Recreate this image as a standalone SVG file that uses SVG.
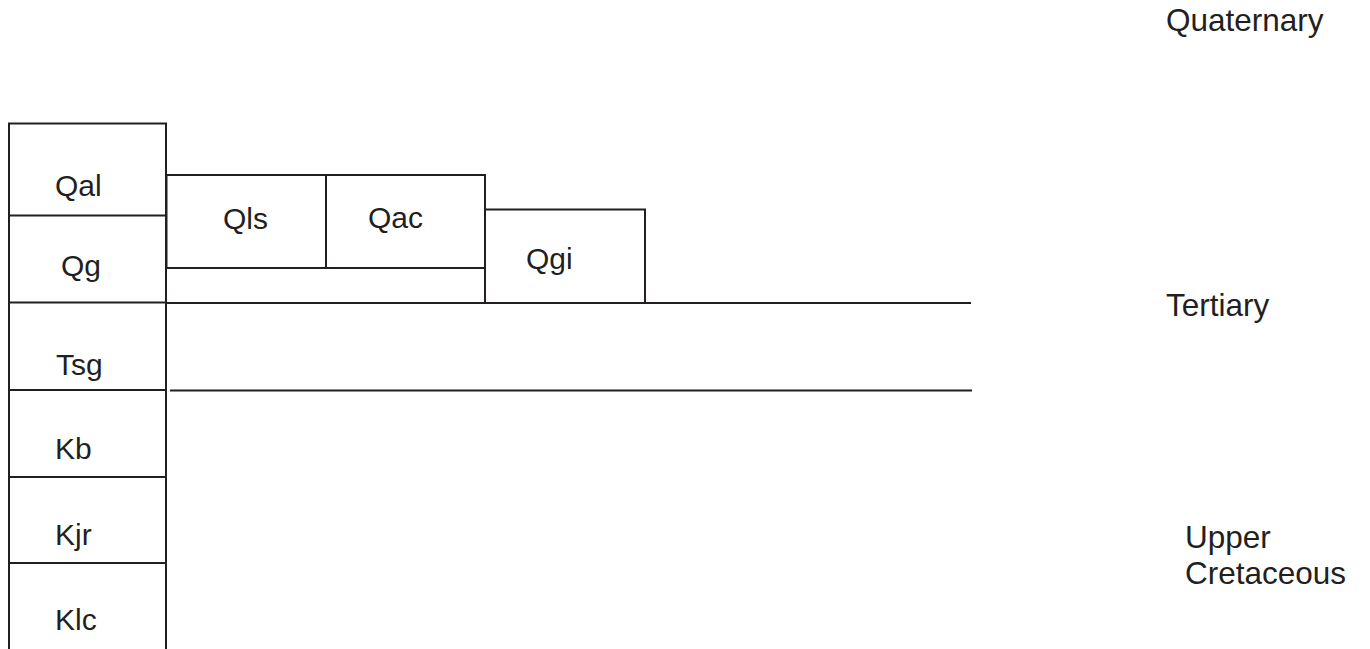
<svg xmlns="http://www.w3.org/2000/svg" width="1370" height="649" viewBox="0 0 1370 649">
<style>
.b{fill:none;stroke:#231f20;stroke-width:2}
.t{font-family:"Liberation Sans",Arial,sans-serif;font-size:30px;fill:#231f20}
.p{font-size:31.5px}
</style>
<rect width="1370" height="649" fill="#fff"/>
<g id="column">
<path class="b" d="M9,660 V123.5 H166 V660"/>
</g>
<g id="Qal"><path class="b" d="M9,215.5 H166"/><text class="t" x="55" y="196">Qal</text></g>
<g id="Qg"><path class="b" d="M9,302.5 H166"/><text class="t" x="61" y="276">Qg</text></g>
<g id="Tsg"><path class="b" d="M9,390 H166"/><text class="t" x="56" y="375">Tsg</text></g>
<g id="Kb"><path class="b" d="M9,477 H166"/><text class="t" x="55" y="459">Kb</text></g>
<g id="Kjr"><path class="b" d="M9,563 H166"/><text class="t" x="55" y="545">Kjr</text></g>
<g id="Klc"><text class="t" x="55" y="630">Klc</text></g>
<g id="Qls"><rect class="b" x="166.5" y="175" width="159.5" height="93"/><text class="t" x="223" y="229">Qls</text></g>
<g id="Qac"><rect class="b" x="326" y="175" width="159" height="93"/><text class="t" x="368" y="228">Qac</text></g>
<g id="Qgi"><rect class="b" x="485" y="209.5" width="160" height="93.5"/><text class="t" x="526" y="269">Qgi</text></g>
<g id="connectors">
<path class="b" d="M166,303 H971"/>
<path class="b" d="M170,390.5 H972"/>
</g>
<g id="periods">
<text class="t p" x="1166" y="31">Quaternary</text>
<text class="t p" x="1166" y="316">Tertiary</text>
<text class="t p" x="1185" y="548">Upper</text>
<text class="t p" x="1185" y="584">Cretaceous</text>
</g>
</svg>
